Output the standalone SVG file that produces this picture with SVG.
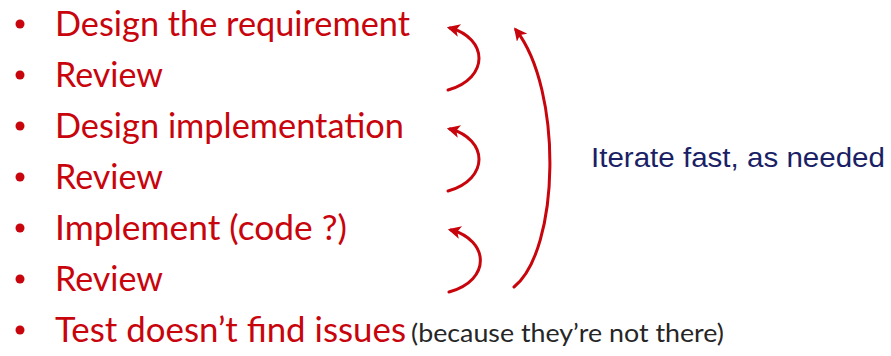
<svg xmlns="http://www.w3.org/2000/svg" width="891" height="356" viewBox="0 0 891 356">
  <style>
    .item { font-family: Lato, "Open Sans", sans-serif; font-size: 34px; fill: #c8040c; }
    .note { font-family: Lato, "Open Sans", sans-serif; font-size: 25px; fill: #262626; }
    .side { font-family: "Liberation Sans", Arial, sans-serif; font-size: 27.5px; fill: #1b1f66; }
    .bullet { fill: #c8040c; }
    .loop { fill: none; stroke: #c8040c; stroke-width: 3; stroke-linecap: round; marker-end: url(#head); }
  </style>
  <defs>
    <marker id="head" viewBox="0 0 12 12" refX="9" refY="6" markerWidth="13" markerHeight="13" markerUnits="userSpaceOnUse" orient="auto">
      <path d="M0,0 L12,6 L0,12 L3,6 Z" fill="#c8040c"/>
    </marker>
  </defs>
  <rect width="891" height="356" fill="#ffffff"/>

  <g id="step-design-requirement">
    <circle class="bullet" cx="20" cy="24" r="4.5"/>
    <text class="item" x="55" y="36" textLength="355" lengthAdjust="spacingAndGlyphs">Design the requirement</text>
  </g>
  <g id="step-review-1">
    <circle class="bullet" cx="20" cy="75" r="4.5"/>
    <text class="item" x="55" y="87" textLength="108" lengthAdjust="spacingAndGlyphs">Review</text>
  </g>
  <g id="step-design-implementation">
    <circle class="bullet" cx="20" cy="126" r="4.5"/>
    <text class="item" x="55" y="138" textLength="349" lengthAdjust="spacingAndGlyphs">Design implementation</text>
  </g>
  <g id="step-review-2">
    <circle class="bullet" cx="20" cy="177" r="4.5"/>
    <text class="item" x="55" y="189" textLength="108" lengthAdjust="spacingAndGlyphs">Review</text>
  </g>
  <g id="step-implement">
    <circle class="bullet" cx="20" cy="228" r="4.5"/>
    <text class="item" x="55" y="240" textLength="292" lengthAdjust="spacingAndGlyphs">Implement (code ?)</text>
  </g>
  <g id="step-review-3">
    <circle class="bullet" cx="20" cy="279" r="4.5"/>
    <text class="item" x="55" y="291" textLength="108" lengthAdjust="spacingAndGlyphs">Review</text>
  </g>
  <g id="step-test">
    <circle class="bullet" cx="20" cy="330" r="4.5"/>
    <text class="item" x="55" y="342" textLength="351" lengthAdjust="spacingAndGlyphs">Test doesn’t find issues</text>
    <text class="note" x="411" y="342" textLength="313" lengthAdjust="spacingAndGlyphs">(because they’re not there)</text>
  </g>
  <g id="label-iterate">
    <text class="side" x="591" y="167" textLength="294" lengthAdjust="spacingAndGlyphs">Iterate fast, as needed</text>
  </g>

  <g id="connectors">
    <path class="loop" d="M448,90 C490,78 488,38 450,28"/>
    <path class="loop" d="M448,191 C490,179 488,139 450,129"/>
    <path class="loop" d="M449,292 C492,280 489,240 451,230"/>
    <path class="loop" d="M514,287 C560,250 563,90 516,30"/>
  </g>
</svg>
